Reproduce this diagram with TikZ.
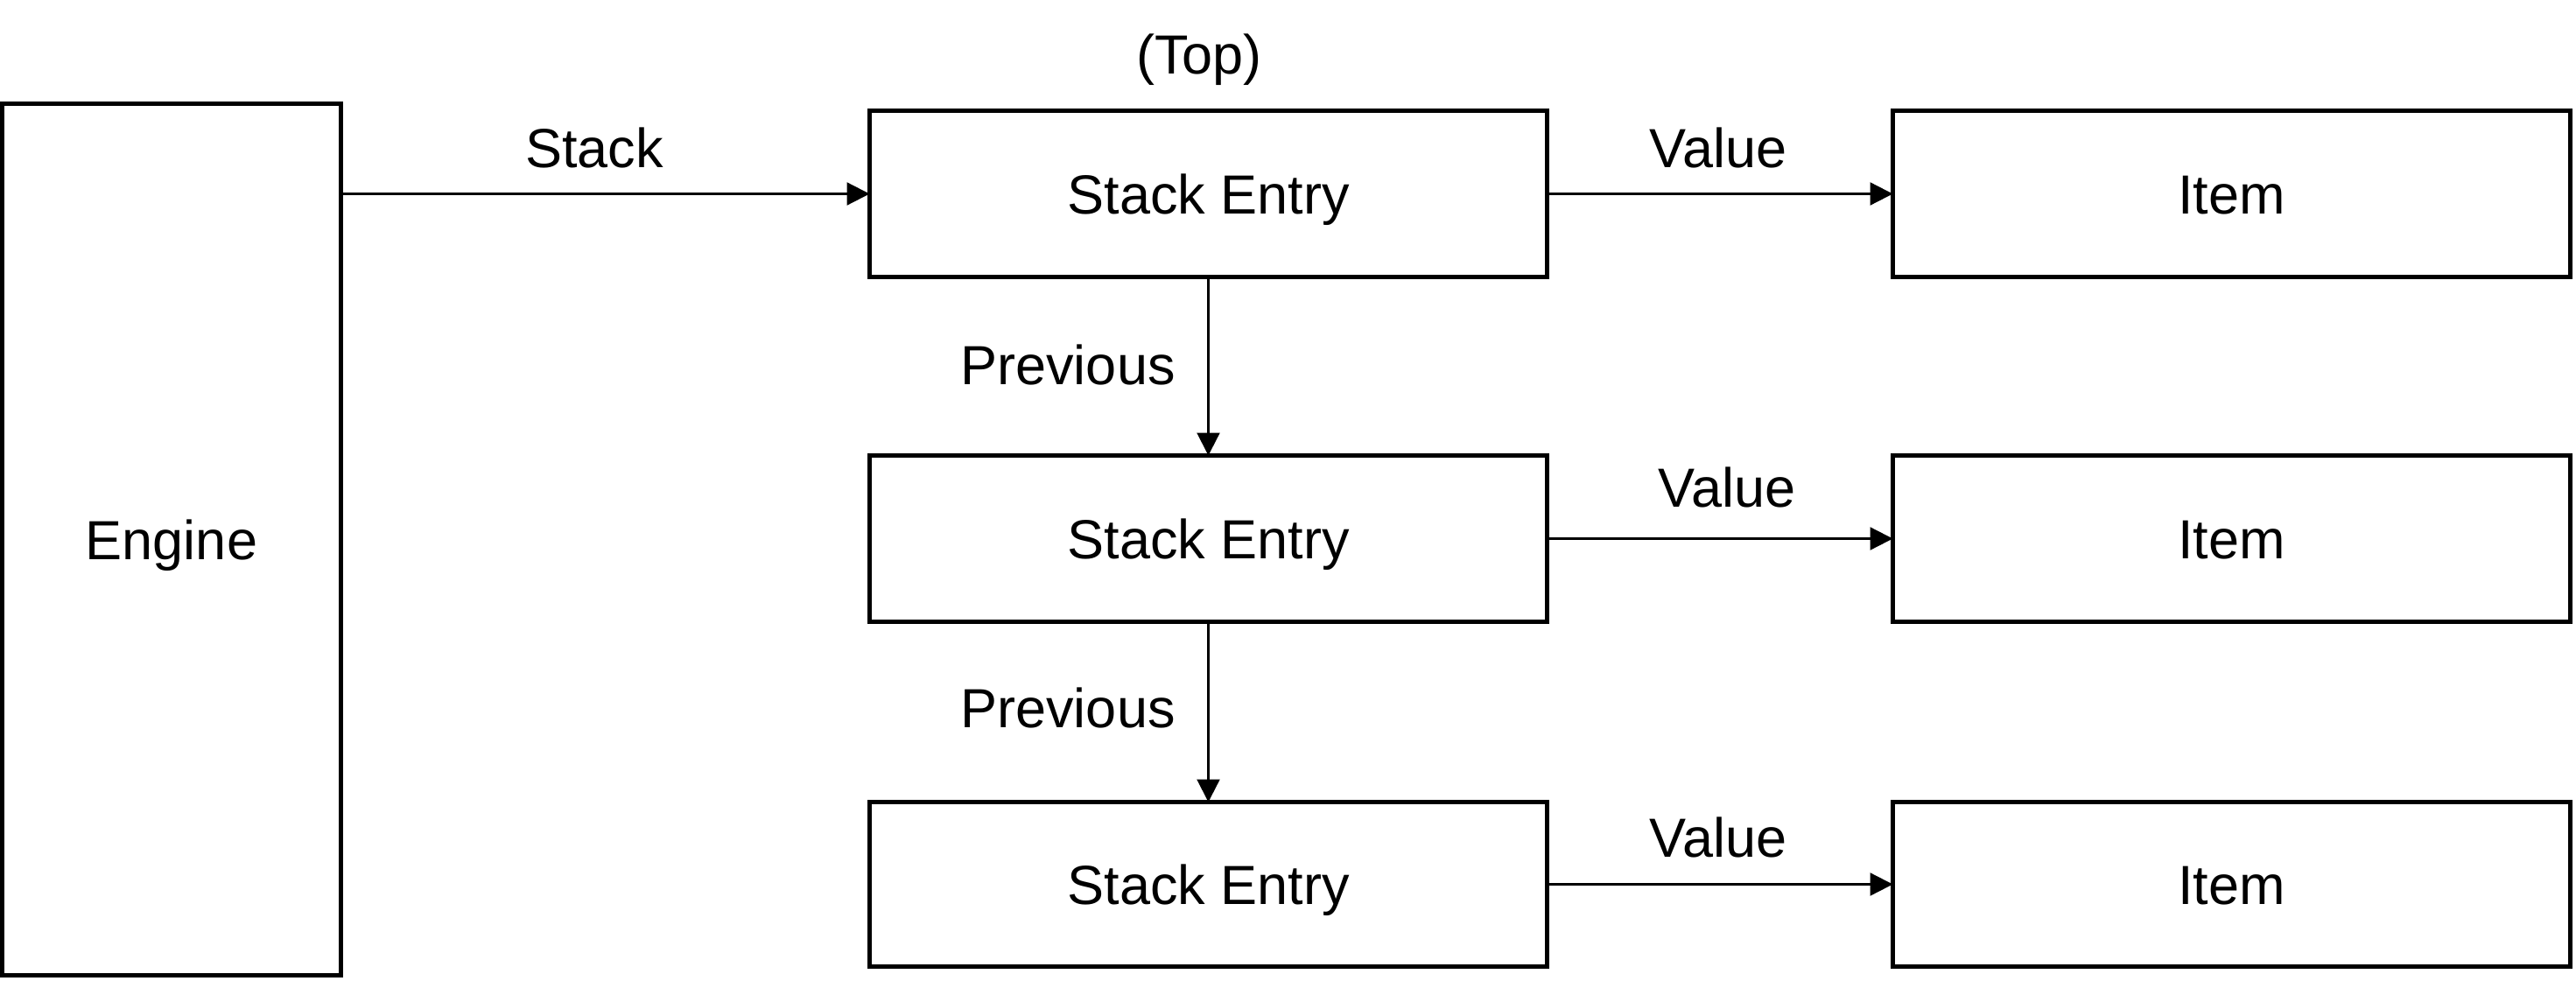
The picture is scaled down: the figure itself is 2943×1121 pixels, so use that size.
\documentclass[tikz,border=0pt]{standalone}
\usepackage{fontspec}
\setmainfont{Liberation Sans}
\usetikzlibrary{arrows.meta}
\begin{document}
\begin{tikzpicture}[x=1pt,y=-1pt,
  box/.style={draw,line width=5pt,rectangle,inner sep=0pt,outer sep=0pt,minimum width=774pt,minimum height=190pt,text height=45pt,text depth=0pt,font=\fontsize{63}{75}\selectfont},
  lbl/.style={inner sep=0pt,text height=45pt,text depth=0pt,font=\fontsize{63}{75}\selectfont},
  conn/.style={line width=2.2pt,-{Triangle[length=26pt,width=26pt]}}]
\useasboundingbox (0,0) rectangle (2943,1121);
\node[box,minimum width=387pt,minimum height=996pt] (eng) at (196,616.5) {Engine};
\node[box] (se1) at (1380.5,221.5) {Stack Entry};
\node[box] (se2) at (1380.5,615.5) {Stack Entry};
\node[box,minimum height=188pt] (se3) at (1380.5,1010.5) {Stack Entry};
\node[box] (it1) at (2549.5,221.5) {Item};
\node[box] (it2) at (2549.5,615.5) {Item};
\node[box,minimum height=188pt] (it3) at (2549.5,1010.5) {Item};
\draw[conn] (eng.east |- se1.west) -- (se1.west);
\draw[conn] (se1.east) -- (it1.west);
\draw[conn] (se2.east) -- (it2.west);
\draw[conn] (se3.east) -- (it3.west);
\draw[conn] (se1.south) -- (se2.north);
\draw[conn] (se2.south) -- (se3.north);
\node[lbl] (top) at (1370,62) {(Top)};
\node[lbl] (lstack) at (679,169) {Stack};
\node[lbl] (lv1) at (1963,169) {Value};
\node[lbl] (lv2) at (1973,557) {Value};
\node[lbl] (lv3) at (1963,957) {Value};
\node[lbl] (lp1) at (1220,417) {Previous};
\node[lbl] (lp2) at (1220,809) {Previous};
\end{tikzpicture}
\end{document}
